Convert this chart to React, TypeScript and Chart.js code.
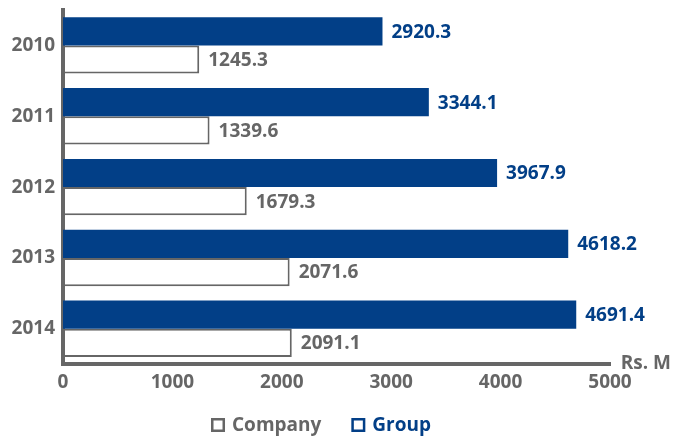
import React, { useEffect, useRef } from "react";
import { Chart, registerables } from "chart.js";

Chart.register(...registerables);

const years = ["2010", "2011", "2012", "2013", "2014"];
const groupValues = [2920.3, 3344.1, 3967.9, 4618.2, 4691.4];
const companyValues = [1245.3, 1339.6, 1679.3, 2071.6, 2091.1];
const xTicks = [0, 1000, 2000, 3000, 4000, 5000];
const unitLabel = "Rs. M";
const legendItems = ["Company", "Group"];

const BLUE = "#023f87";
const GRAY = "#666666";
const FONT = "'Open Sans', sans-serif";

export default function App() {
  const ref = useRef<HTMLCanvasElement>(null);
  useEffect(() => {
    if (!ref.current) return;
    const valueLabels = {
      id: "valueLabels",
      afterDatasetsDraw(chart: any) {
        const ctx = chart.ctx;
        ctx.save();
        ctx.font = `bold 19px ${FONT}`;
        ctx.textBaseline = "middle";
        ctx.textAlign = "left";
        chart.data.datasets.forEach((ds: any, di: number) => {
          const meta = chart.getDatasetMeta(di);
          ctx.fillStyle = di === 0 ? BLUE : GRAY;
          meta.data.forEach((el: any, i: number) => {
            ctx.fillText(ds.data[i].toFixed(1), el.x + 9, el.y + 1);
          });
        });
        const xs = chart.scales.x;
        ctx.fillStyle = GRAY;
        ctx.textAlign = "right";
        ctx.font = `bold 19px ${FONT}`;
        ctx.fillText(unitLabel, chart.width - 3, xs.top - 1);

        ctx.font = `bold 19px ${FONT}`;
        ctx.textAlign = "left";
        const box = 14;
        const gapBoxText = 7;
        const gapItems = 30;
        const widths = legendItems.map((t) => box + gapBoxText + ctx.measureText(t).width);
        const total = widths[0] + widths[1] + gapItems;
        let x = 321 - total / 2;
        const cy = chart.height - 14;
        const colors = [GRAY, BLUE];
        legendItems.forEach((t, i) => {
          ctx.strokeStyle = colors[i];
          ctx.lineWidth = 2.5;
          ctx.strokeRect(x + 1.25, cy - box / 2 + 1.25, box - 2.5, box - 2.5);
          ctx.fillStyle = colors[i];
          ctx.fillText(t, x + box + gapBoxText, cy + 1);
          x += widths[i] + gapItems;
        });
        ctx.restore();
      },
    };
    const chart = new Chart(ref.current, {
      type: "bar",
      data: {
        labels: years,
        datasets: [
          {
            label: "Group",
            data: groupValues,
            backgroundColor: BLUE,
            borderColor: BLUE,
            borderWidth: 0,
            barPercentage: 1,
            categoryPercentage: 0.796,
          },
          {
            label: "Company",
            data: companyValues,
            backgroundColor: "#ffffff",
            borderColor: GRAY,
            borderWidth: 2,
            borderSkipped: false,
            barPercentage: 1,
            categoryPercentage: 0.796,
          },
        ],
      },
      options: {
        indexAxis: "y",
        animation: false,
        responsive: true,
        maintainAspectRatio: false,
        layout: { padding: { left: 0, right: 64, top: 10, bottom: 38 } },
        scales: {
          x: {
            min: 0,
            max: 5000,
            afterBuildTicks: (scale: any) => {
              scale.ticks = xTicks.map((v) => ({ value: v }));
            },
            grid: { display: false, drawTicks: false },
            border: { display: true, color: GRAY, width: 4 },
            ticks: {
              color: GRAY,
              padding: 7,
              callback: (v: any) => String(v),
              font: { family: FONT, size: 19, weight: "bold" },
            },
          },
          y: {
            grid: { display: false, drawTicks: false },
            border: { display: true, color: GRAY, width: 4 },
            ticks: {
              color: GRAY,
              padding: 8,
              font: { family: FONT, size: 19, weight: "bold" },
            },
            afterFit: (scale: any) => {
              scale.width = 63;
              scale.paddingTop = 0;
              scale.paddingBottom = 0;
            },
          },
        },
        plugins: {
          tooltip: { enabled: false },
          legend: { display: false },
        },
      },
      plugins: [valueLabels],
    } as any);
    return () => chart.destroy();
  }, []);
  return (
    <div style={{ position: "fixed", left: 0, top: 0, width: 674, height: 439, background: "#fff" }}>
      <canvas ref={ref} />
    </div>
  );
}
